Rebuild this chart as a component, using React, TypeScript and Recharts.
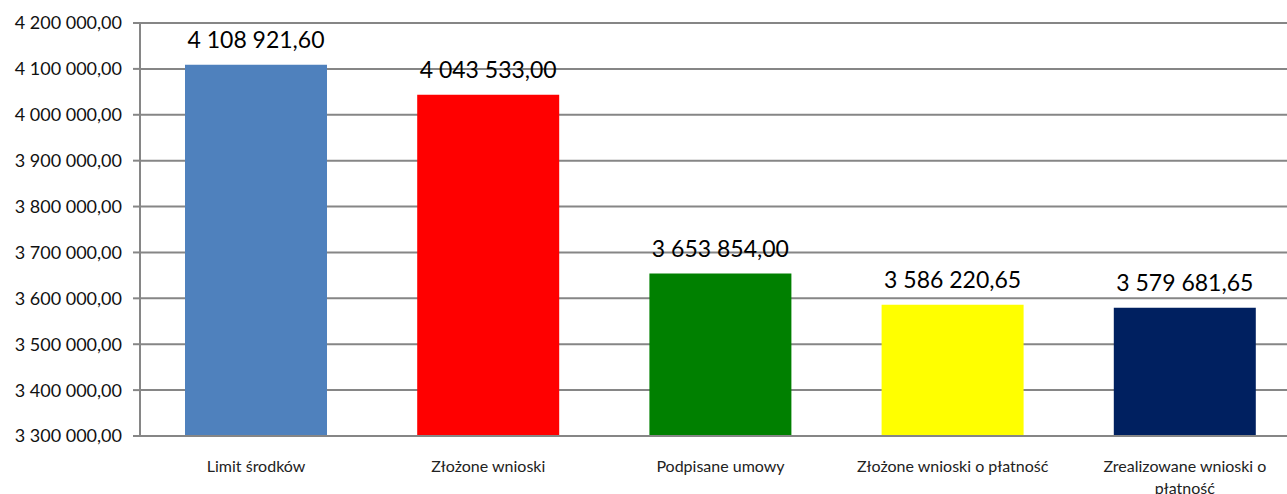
import { BarChart, Bar, XAxis, YAxis, CartesianGrid, Cell, LabelList } from 'recharts'

const categories = [
    'Limit środków',
    'Złożone wnioski',
    'Podpisane umowy',
    'Złożone wnioski o płatność',
    'Zrealizowane wnioski o płatność',
]

const amounts = [4108921.6, 4043533.0, 3653854.0, 3586220.65, 3579681.65]

const yTicks = [3300000, 3400000, 3500000, 3600000, 3700000, 3800000, 3900000, 4000000, 4100000, 4200000]

const barColors = ['#4F81BD', '#FF0000', '#008000', '#FFFF00', '#002060']

const data = categories.map((name, i) => ({ name, value: amounts[i] }))

const FONT = 'Lato, "Open Sans", sans-serif'

// 4 108 921,60
function formatPl(v: number): string {
    const [intPart, dec] = v.toFixed(2).split('.')
    return intPart.replace(/\B(?=(\d{3})+(?!\d))/g, ' ') + ',' + dec
}

function wrapLabel(text: string, maxChars: number): string[] {
    if (text.length <= maxChars) return [text]
    const words = text.split(' ')
    const lines: string[] = []
    let cur = ''
    for (const w of words) {
        const next = cur ? cur + ' ' + w : w
        if (next.length > maxChars - 6 && cur) {
            lines.push(cur)
            cur = w
        } else {
            cur = next
        }
    }
    if (cur) lines.push(cur)
    return lines
}

function CategoryTick(props: any) {
    const { x, y, payload } = props
    const lines = wrapLabel(String(payload.value), 28)
    return (
        <text x={x} y={y} textAnchor="middle" fontFamily={FONT} fontSize={16} fill="#222">
            {lines.map((line, i) => (
                <tspan key={i} x={x} dy={i === 0 ? 28 : 22}>
                    {line}
                </tspan>
            ))}
        </text>
    )
}

export default function App() {
    // plot runs slightly past the right edge of the picture, like the source
    return (
        <div style={{ width: 1287, height: 494, overflow: 'hidden' }}>
            <style>{'body{margin:0}'}</style>
            <BarChart
                width={1301}
                height={494}
                data={data}
                margin={{ top: 23, right: 0, left: 0, bottom: 0 }}
                barCategoryGap={0}
            >
                <CartesianGrid vertical={false} stroke="#868686" strokeWidth={2} />
                <XAxis
                    dataKey="name"
                    tick={<CategoryTick />}
                    tickLine={false}
                    axisLine={{ stroke: '#868686', strokeWidth: 2 }}
                    interval={0}
                    height={58}
                />
                <YAxis
                    width={140}
                    domain={[3300000, 4200000]}
                    ticks={yTicks}
                    allowDataOverflow
                    tickFormatter={(v: number) => formatPl(v)}
                    tick={{ fontFamily: FONT, fontSize: 18, fill: '#111' }}
                    tickSize={7}
                    tickMargin={11}
                    tickLine={{ stroke: '#868686', strokeWidth: 2 }}
                    axisLine={{ stroke: '#868686', strokeWidth: 2 }}
                />
                <Bar dataKey="value" barSize={142} isAnimationActive={false}>
                    {data.map((_entry, index) => (
                        <Cell key={`cell-${String(index)}`} fill={barColors[index]} />
                    ))}
                    <LabelList
                        dataKey="value"
                        position="top"
                        offset={17}
                        formatter={(v: any) => formatPl(Number(v))}
                        style={{ fontFamily: FONT, fontSize: 23, fill: '#000' }}
                    />
                </Bar>
            </BarChart>
        </div>
    )
}
